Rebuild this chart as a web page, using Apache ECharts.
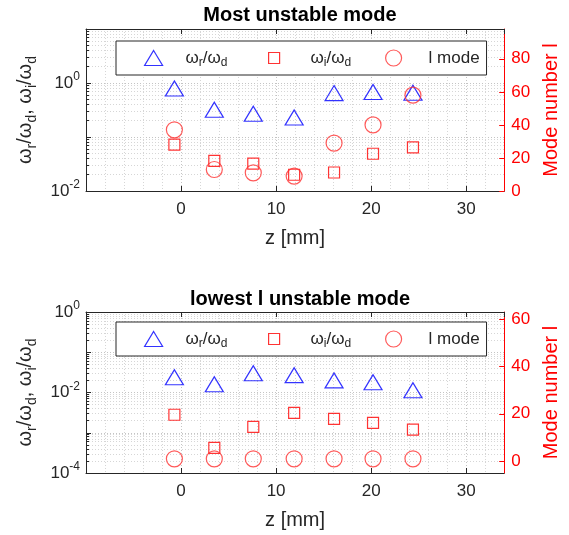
<!DOCTYPE html>
<html>
<head>
<meta charset="utf-8">
<script src="https://cdn.jsdelivr.net/npm/echarts@6/dist/echarts.min.js"></script>
<style>
  html, body { margin: 0; padding: 0; background: #fff; }
  #main { width: 569px; height: 535px; }
</style>
</head>
<body>
<div id="main"></div>
<script>
// 测点位置 z [mm]
var zPos = [-0.7, 3.5, 7.6, 11.9, 16.1, 20.2, 24.4];
// 上图: Most unstable mode
var topWr = [0.79, 0.32, 0.27, 0.23, 0.65, 0.68, 0.66];
var topWi = [0.072, 0.036, 0.032, 0.020, 0.022, 0.049, 0.064];
var topL = [37, 13, 11, 9, 29, 40, 58];
// 下图: lowest l unstable mode
var lowWr = [0.024, 0.016, 0.030, 0.027, 0.020, 0.018, 0.0114];
var lowWi = [0.0028, 0.00042, 0.0014, 0.0031, 0.0022, 0.00176, 0.0012];
var lowL = [1, 1, 1, 1, 1, 1, 1];
// 坐标轴刻度
var xTicks = [0, 10, 20, 30];
var topModeTicks = [0, 20, 40, 60, 80];
var lowModeTicks = [0, 20, 40, 60];

var FONT = '"Liberation Sans", Arial, sans-serif';
var DARK = '#262626';
var RED = '#ff0000';
var GRIDC = '#c4c4c4';

function pts(vals) {
    return zPos.map(function(z, i) { return [z, vals[i]]; });
}

// 10^n 形式的对数轴标签, 只显示偶数次幂
function logLabel(v) {
    var e = Math.round(Math.log(v) / Math.LN10);
    if (e % 2 !== 0) return '';
    return '10{sup|' + e + '}';
}

var legendNames = {
    wr: 'ω{s|r}/ω{s|d}',
    wi: 'ω{s|i}/ω{s|d}',
    lm: 'l mode'
};
function legendFmt(name) { return legendNames[name]; }

var legendRich = {
    s: { fontSize: 12, lineHeight: 12, verticalAlign: 'bottom', color: DARK, fontFamily: FONT }
};

function makeLegends(top) {
    return [{
        // 第一个图例带外框, 靠 padding 撑满整个框
        data: ['wr'], left: 116, top: top, orient: 'horizontal',
        padding: [6, 259, 6, 28],
        itemWidth: 18, itemHeight: 15,
        itemStyle: { borderWidth: 1.2 },
        backgroundColor: '#fff', borderColor: DARK, borderWidth: 1,
        formatter: legendFmt,
        textStyle: { fontSize: 17, color: DARK, fontFamily: FONT, lineHeight: 22, padding: [0, 0, 0, 18], rich: legendRich }
    }, {
        data: ['wi'], left: 268, top: top + 6, padding: 0,
        itemWidth: 11, itemHeight: 11,
        itemStyle: { borderWidth: 1.2 },
        formatter: legendFmt,
        textStyle: { fontSize: 17, color: DARK, fontFamily: FONT, lineHeight: 22, padding: [0, 0, 0, 26], rich: legendRich }
    }, {
        data: ['lm'], left: 385, top: top + 6, padding: 0,
        itemWidth: 16, itemHeight: 16,
        itemStyle: { borderWidth: 1.2 },
        formatter: legendFmt,
        textStyle: { fontSize: 17, color: DARK, fontFamily: FONT, lineHeight: 22, padding: [0, 0, 0, 22], rich: legendRich }
    }];
}

function xAxes(g) {
    return [{
        gridIndex: g, type: 'value', position: 'bottom',
        min: -10, max: 34, interval: 10,
        axisLine: { show: true, onZero: false, lineStyle: { color: DARK } },
        axisTick: { show: true, inside: true, length: 5, lineStyle: { color: DARK } },
        axisLabel: { fontSize: 17, color: DARK, fontFamily: FONT, margin: 10, showMinLabel: false, showMaxLabel: false },
        splitLine: { show: true, lineStyle: { color: GRIDC, type: [1, 2] } },
        minorTick: { show: false, splitNumber: 5 },
        minorSplitLine: { show: true, lineStyle: { color: '#d6d6d6', type: [1, 2] } },
        name: 'z [mm]', nameLocation: 'middle', nameGap: 37,
        nameTextStyle: { fontSize: 20, color: DARK, fontFamily: FONT }
    }, {
        gridIndex: g, type: 'value', position: 'top',
        min: -10, max: 34, interval: 10,
        axisLine: { show: true, onZero: false, lineStyle: { color: DARK } },
        axisTick: { show: true, inside: true, length: 5, lineStyle: { color: DARK } },
        axisLabel: { show: false },
        splitLine: { show: false }
    }];
}

function logAxis(g, min, max) {
    return {
        gridIndex: g, type: 'log', logBase: 10, position: 'left',
        min: min, max: max,
        axisLine: { show: true, onZero: false, lineStyle: { color: DARK } },
        axisTick: { show: true, inside: true, length: 5, lineStyle: { color: DARK } },
        minorTick: { show: true, splitNumber: 9, length: 3, lineStyle: { color: DARK } },
        axisLabel: {
            fontSize: 17, color: DARK, fontFamily: FONT, margin: 6, lineHeight: 24,
            formatter: logLabel,
            rich: { sup: { fontSize: 12, lineHeight: 12, verticalAlign: 'top', color: DARK, fontFamily: FONT } }
        },
        splitLine: { show: true, lineStyle: { color: GRIDC, type: [1, 2] } },
        minorSplitLine: { show: true, lineStyle: { color: '#d6d6d6', type: [1, 2] } },
        name: 'ω{s|r}/ω{s|d}, ω{s|i}/ω{s|d}',
        nameLocation: 'middle', nameRotate: 90, nameGap: 46,
        nameTextStyle: {
            fontSize: 20, color: DARK, fontFamily: FONT, lineHeight: 28,
            rich: { s: { fontSize: 14, lineHeight: 14, verticalAlign: 'bottom', color: DARK, fontFamily: FONT } }
        }
    };
}

function modeAxis(g, min, max, extra) {
    var ax = {
        gridIndex: g, type: 'value', position: 'right',
        min: min, max: max,
        axisLine: { show: true, onZero: false, lineStyle: { color: RED } },
        axisTick: { show: true, inside: true, length: 5, lineStyle: { color: RED } },
        axisLabel: { fontSize: 17, color: RED, fontFamily: FONT, margin: 7, showMinLabel: min === 0, showMaxLabel: false },
        splitLine: { show: false },
        name: 'Mode number l', nameLocation: 'middle', nameRotate: 90, nameGap: 36,
        nameTextStyle: { fontSize: 20, color: RED, fontFamily: FONT }
    };
    for (var k in extra) ax[k] = extra[k];
    return ax;
}

function scat(name, data, xi, yi, sym, size, color) {
    return {
        name: name, type: 'scatter', xAxisIndex: xi, yAxisIndex: yi,
        symbol: sym, symbolSize: size, data: data,
        itemStyle: { color: 'rgba(0,0,0,0)', borderColor: color, borderWidth: 1.2 },
        emphasis: { disabled: true }
    };
}

var myChart = echarts.init(document.getElementById('main'));

var option = {
    backgroundColor: '#fff',
    animation: false,
    title: [{
        text: 'Most unstable mode', left: 300, top: 5, textAlign: 'center', padding: 0,
        textStyle: { fontSize: 20, fontWeight: 'bold', color: '#000', fontFamily: FONT }
    }, {
        text: 'lowest l unstable mode', left: 300, top: 289, textAlign: 'center', padding: 0,
        textStyle: { fontSize: 20, fontWeight: 'bold', color: '#000', fontFamily: FONT }
    }],
    legend: makeLegends(41).concat(makeLegends(322)),
    grid: [
        { left: 86, right: 55, top: 29, height: 162, containLabel: false },
        { left: 86, right: 55, top: 312, height: 161, containLabel: false }
    ],
    xAxis: xAxes(0).concat(xAxes(1)),
    yAxis: [
        logAxis(0, 0.01, 10),
        modeAxis(0, 0, 98, { interval: 20 }),
        logAxis(1, 0.0001, 1),
        modeAxis(1, -5, 63, { splitNumber: 3 })
    ],
    series: [
        scat('wr', pts(topWr), 0, 0, 'triangle', [18, 15], '#0000ff'),
        scat('wi', pts(topWi), 0, 0, 'rect', 11, RED),
        scat('lm', pts(topL), 0, 1, 'circle', 16, '#ff3030'),
        scat('wr', pts(lowWr), 2, 2, 'triangle', [18, 15], '#0000ff'),
        scat('wi', pts(lowWi), 2, 2, 'rect', 11, RED),
        scat('lm', pts(lowL), 2, 3, 'circle', 16, '#ff3030')
    ]
};

myChart.setOption(option);
</script>
</body>
</html>
